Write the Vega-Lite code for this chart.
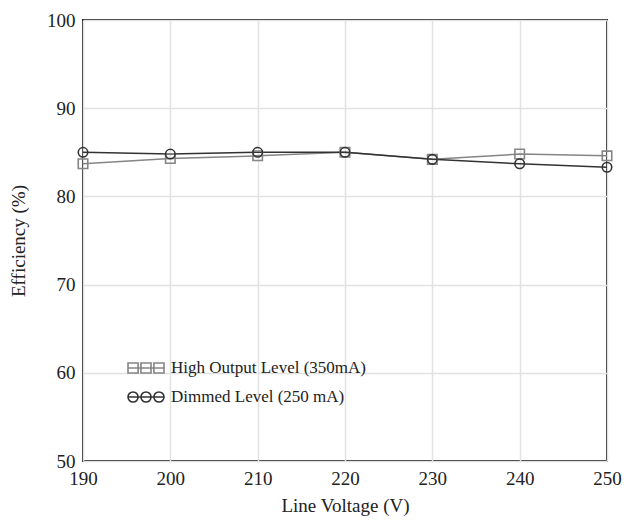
{
  "$schema": "https://vega.github.io/schema/vega-lite/v6.json",
  "width": 524,
  "height": 441,
  "autosize": {"type": "none"},
  "padding": {"left": 83, "top": 20, "right": 19, "bottom": 70},
  "background": "white",
  "config": {
    "font": "Liberation Serif",
    "view": {"stroke": "#222", "strokeWidth": 2},
    "axis": {
      "labelFont": "Liberation Serif",
      "titleFont": "Liberation Serif",
      "labelFontSize": 19,
      "titleFontSize": 19,
      "titleFontWeight": "normal",
      "labelColor": "#222",
      "titleColor": "#222",
      "domain": false,
      "ticks": false,
      "gridColor": "#e2e2e2",
      "gridWidth": 1.5
    },
    "legend": {
      "labelFont": "Liberation Serif", "labelFontSize": 17, "labelColor": "#222", "labelLimit": 400,
      "symbolSize": 1296, "symbolOpacity": 1, "symbolStrokeWidth": 1.6, "symbolFillColor": "transparent",
      "clipHeight": 20, "rowPadding": 9, "labelOffset": 6
    }
  },
  "data": {
    "values": [
      {"v": 190, "eff": 83.7, "s": "High Output Level (350mA)"},
      {"v": 200, "eff": 84.3, "s": "High Output Level (350mA)"},
      {"v": 210, "eff": 84.6, "s": "High Output Level (350mA)"},
      {"v": 220, "eff": 85.0, "s": "High Output Level (350mA)"},
      {"v": 230, "eff": 84.2, "s": "High Output Level (350mA)"},
      {"v": 240, "eff": 84.8, "s": "High Output Level (350mA)"},
      {"v": 250, "eff": 84.6, "s": "High Output Level (350mA)"},
      {"v": 190, "eff": 85.0, "s": "Dimmed Level (250 mA)"},
      {"v": 200, "eff": 84.8, "s": "Dimmed Level (250 mA)"},
      {"v": 210, "eff": 85.0, "s": "Dimmed Level (250 mA)"},
      {"v": 220, "eff": 85.0, "s": "Dimmed Level (250 mA)"},
      {"v": 230, "eff": 84.2, "s": "Dimmed Level (250 mA)"},
      {"v": 240, "eff": 83.7, "s": "Dimmed Level (250 mA)"},
      {"v": 250, "eff": 83.3, "s": "Dimmed Level (250 mA)"}
    ]
  },
  "encoding": {
    "x": {
      "field": "v", "type": "quantitative",
      "scale": {"domain": [190, 250], "nice": false, "zero": false},
      "axis": {"values": [190, 200, 210, 220, 230, 240, 250], "title": "Line Voltage (V)", "labelPadding": 8, "titlePadding": 8, "labelFlush": false}
    },
    "y": {
      "field": "eff", "type": "quantitative",
      "scale": {"domain": [50, 100], "nice": false, "zero": false},
      "axis": {"values": [50, 60, 70, 80, 90, 100], "title": "Efficiency (%)", "labelPadding": 8, "titlePadding": 18, "labelFlush": false}
    }
  },
  "layer": [
    {
      "mark": {"type": "line", "strokeWidth": 1.5},
      "encoding": {
        "detail": {"field": "s"},
        "color": {
          "field": "s", "type": "nominal",
          "scale": {"domain": ["High Output Level (350mA)", "Dimmed Level (250 mA)"], "range": ["#858585", "#333333"]},
          "legend": null
        }
      }
    },
    {
      "mark": {"type": "point", "filled": false, "strokeWidth": 1.6, "opacity": 1},
      "encoding": {
        "shape": {
          "field": "s", "type": "nominal",
          "scale": {"domain": ["High Output Level (350mA)", "Dimmed Level (250 mA)"], "range": ["square", "circle"]},
          "legend": null
        },
        "color": {
          "field": "s", "type": "nominal",
          "scale": {"domain": ["High Output Level (350mA)", "Dimmed Level (250 mA)"], "range": ["#858585", "#333333"]},
          "legend": null
        },
        "size": {"value": 90}
      }
    },
    {
      "mark": {"type": "point", "filled": false, "opacity": 0, "strokeWidth": 1.4},
      "encoding": {
        "shape": {
          "field": "s", "type": "nominal",
          "scale": {"domain": ["High Output Level (350mA)", "Dimmed Level (250 mA)"], "range": [
            "M-1,0H1M-1,-0.28h0.56v0.56h-0.56zM-0.28,-0.28h0.56v0.56h-0.56zM0.44,-0.28h0.56v0.56h-0.56z",
            "M-1,0H1M-1,0a0.28,0.28 0 1,0 0.56,0a0.28,0.28 0 1,0 -0.56,0M-0.28,0a0.28,0.28 0 1,0 0.56,0a0.28,0.28 0 1,0 -0.56,0M0.44,0a0.28,0.28 0 1,0 0.56,0a0.28,0.28 0 1,0 -0.56,0"
          ]},
          "legend": {"title": null, "orient": "none", "legendX": 44, "legendY": 338}
        },
        "color": {
          "field": "s", "type": "nominal",
          "scale": {"domain": ["High Output Level (350mA)", "Dimmed Level (250 mA)"], "range": ["#858585", "#333333"]},
          "legend": {"title": null, "orient": "none", "legendX": 44, "legendY": 338}
        }
      }
    }
  ],
  "resolve": {"scale": {"shape": "independent", "color": "independent"}}
}
